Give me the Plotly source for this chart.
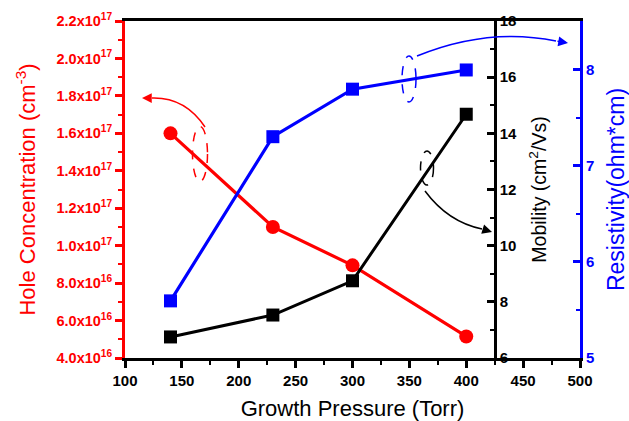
import plotly.graph_objects as go

# ---- data ----
pressure = [140, 230, 300, 400]
hole_conc = [1.6e17, 1.1e17, 8.95e16, 5.15e16]
mobility = [6.75, 7.53, 8.75, 14.68]
resistivity = [5.595, 7.305, 7.80, 8.0]

hole_tickvals = [4.0e16, 6.0e16, 8.0e16, 1.0e17, 1.2e17, 1.4e17, 1.6e17, 1.8e17, 2.0e17, 2.2e17]
hole_ticktext = ["4.0x10<sup>16</sup>", "6.0x10<sup>16</sup>", "8.0x10<sup>16</sup>",
                 "1.0x10<sup>17</sup>", "1.2x10<sup>17</sup>", "1.4x10<sup>17</sup>",
                 "1.6x10<sup>17</sup>", "1.8x10<sup>17</sup>", "2.0x10<sup>17</sup>",
                 "2.2x10<sup>17</sup>"]
x_tickvals = [100, 150, 200, 250, 300, 350, 400, 450, 500]
mob_tickvals = [6, 8, 10, 12, 14, 16, 18]
res_tickvals = [5, 6, 7, 8]

RED = "#ff0000"
BLUE = "#0000ff"
BLACK = "#000000"
FONT = "Liberation Sans, Arial, sans-serif"

W, H = 629, 421
L, R, T, B = 125, 580, 21, 358

def px(x):
    return (x - L) / (R - L)

def py(y):
    return (B - y) / (B - T)

fig = go.Figure()

fig.add_trace(go.Scatter(x=pressure, y=hole_conc, mode="lines+markers",
                         line=dict(color=RED, width=3.2),
                         marker=dict(symbol="circle", size=14, color=RED),
                         yaxis="y", showlegend=False))
fig.add_trace(go.Scatter(x=pressure, y=mobility, mode="lines+markers",
                         line=dict(color=BLACK, width=3),
                         marker=dict(symbol="square", size=13, color=BLACK),
                         yaxis="y2", showlegend=False))
fig.add_trace(go.Scatter(x=pressure, y=resistivity, mode="lines+markers",
                         line=dict(color=BLUE, width=3.2),
                         marker=dict(symbol="square", size=13, color=BLUE),
                         yaxis="y3", showlegend=False))

shapes = []
annotations = []

def ellipse(cx, cy, w, h, color):
    shapes.append(dict(type="circle", xref="paper", yref="paper",
                       x0=px(cx - w / 2), x1=px(cx + w / 2),
                       y0=py(cy + h / 2), y1=py(cy - h / 2),
                       line=dict(color=color, width=1.5, dash="dash")))

def curve(p0, c, p2, color, head_from):
    path = "M {} {} Q {} {} {} {}".format(px(p0[0]), py(p0[1]), px(c[0]), py(c[1]),
                                           px(head_from[0]), py(head_from[1]))
    shapes.append(dict(type="path", xref="paper", yref="paper", path=path,
                       line=dict(color=color, width=1.5)))
    annotations.append(dict(xref="paper", yref="paper", x=px(p2[0]), y=py(p2[1]),
                            ax=head_from[0] - p2[0], ay=head_from[1] - p2[1],
                            axref="pixel", ayref="pixel",
                            showarrow=True, arrowhead=2, arrowsize=1.3, arrowwidth=1.5,
                            arrowcolor=color, text=""))

# red annotation
ellipse(200, 154, 15, 55, RED)
curve((205, 127), (185, 97), (142, 98), RED, (152, 98))
# blue annotation
ellipse(409, 79, 14, 46, BLUE)
curve((417, 56), (488, 27), (568, 43), BLUE, (556, 41))
# black annotation
ellipse(427, 168, 13, 34, BLACK)
curve((425, 191), (448, 222), (492, 232), BLACK, (482, 229))

tickfont_black = dict(family=FONT, size=15, color=BLACK, weight="bold")

fig.update_layout(
    width=W, height=H,
    margin=dict(l=L, r=W - R, t=T, b=H - B, pad=0, autoexpand=False),
    paper_bgcolor="white", plot_bgcolor="white",
    font=dict(family=FONT),
    xaxis=dict(range=[100, 500], domain=[0, 1], automargin=False,
               tickvals=x_tickvals,
               ticks="outside", ticklen=7, tickwidth=2.5, tickcolor=BLACK,
               minor=dict(dtick=25, ticks="outside", ticklen=4, tickwidth=2, tickcolor=BLACK),
               showline=True, linecolor=BLACK, linewidth=3, mirror=True,
               showgrid=False, zeroline=False,
               tickfont=tickfont_black,
               title=dict(text="Growth Pressure (Torr)", font=dict(family=FONT, size=22, color=BLACK),
                          standoff=14)),
    yaxis=dict(range=[4.0e16, 2.2e17], automargin=False,
               tickvals=hole_tickvals, ticktext=hole_ticktext,
               ticks="outside", ticklen=7, tickwidth=2.5, tickcolor=RED,
               minor=dict(dtick=1e16, tick0=4e16, ticks="outside", ticklen=4, tickwidth=2, tickcolor=RED),
               showline=True, linecolor=RED, linewidth=3,
               showgrid=False, zeroline=False,
               tickfont=dict(family=FONT, size=14.5, color=RED, weight="bold"),
               title=dict(text="Hole Concentration (cm<sup>-3</sup>)",
                          font=dict(family=FONT, size=22, color=RED), standoff=15)),
    yaxis2=dict(range=[6, 18], overlaying="y", anchor="free", position=(425 - 100) / 400,
                side="right", automargin=False,
                tickvals=mob_tickvals,
                ticks="inside", ticklen=7, tickwidth=2.5, tickcolor=BLACK,
                minor=dict(dtick=1, tick0=6, ticks="inside", ticklen=4, tickwidth=2, tickcolor=BLACK),
                showline=True, linecolor=BLACK, linewidth=3,
                showgrid=False, zeroline=False,
                tickfont=tickfont_black,
                title=dict(text="Mobility (cm<sup>2</sup>/Vs)",
                           font=dict(family=FONT, size=19.5, color=BLACK), standoff=16)),
    yaxis3=dict(range=[5, 8.51], overlaying="y", anchor="x", side="right", automargin=False,
                tickvals=res_tickvals,
                ticks="inside", ticklen=7, tickwidth=2.5, tickcolor=BLUE,
                minor=dict(dtick=0.5, tick0=5, ticks="inside", ticklen=4, tickwidth=2, tickcolor=BLUE),
                showline=True, linecolor=BLUE, linewidth=3,
                showgrid=False, zeroline=False,
                tickfont=dict(family=FONT, size=15, color=BLUE, weight="bold"),
                title=dict(text="Resistivity(ohm*cm)",
                           font=dict(family=FONT, size=23, color=BLUE), standoff=16)),
    shapes=shapes,
    annotations=annotations,
)

fig.write_html("out.html")
